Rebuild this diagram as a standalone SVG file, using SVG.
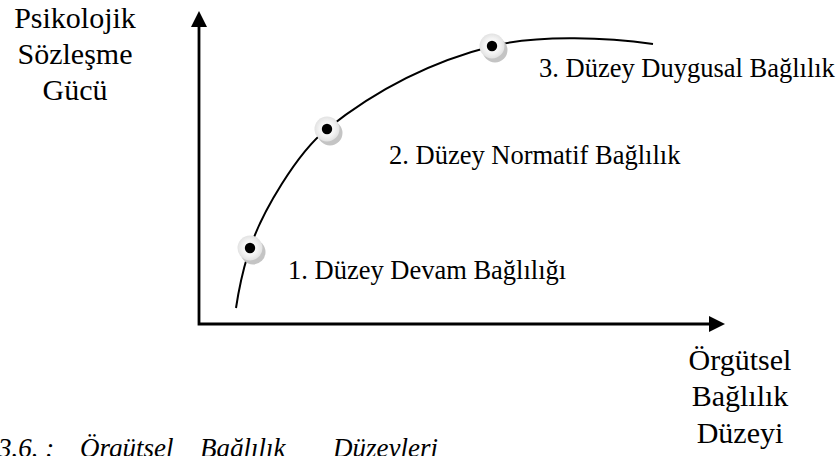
<svg xmlns="http://www.w3.org/2000/svg" width="838" height="456" viewBox="0 0 838 456" font-family="'Liberation Serif', Tinos, 'Times New Roman', 'DejaVu Serif', serif">
<style>
text{font-family:'Liberation Serif', Tinos, 'Times New Roman', 'DejaVu Serif', serif;fill:#000}
.ax{font-size:30px}
.lb{font-size:26.5px}
.cap{font-size:27px;font-style:italic}
.axis{stroke:#000;stroke-width:2.8;fill:none}
.curve{stroke:#000;stroke-width:2;fill:none}
</style>
<defs>
<radialGradient id="g" cx="0.5" cy="0.5" r="0.5">
<stop offset="0" stop-color="#ffffff"/>
<stop offset="0.6" stop-color="#f4f4f4"/>
<stop offset="1" stop-color="#e2e2e2"/>
</radialGradient>
<g id="dot">
<circle cx="3" cy="4" r="12.5" fill="#c4c4c4"/>
<circle cx="0" cy="0" r="12.5" fill="url(#g)"/>
<circle cx="0" cy="0" r="5.2" fill="#000"/>
</g>
</defs>
<rect width="838" height="456" fill="#fff"/>
<g id="connectors">
<path class="axis" d="M199,26 V324 H710"/>
<polygon points="199,11 191,27 207,27" fill="#000"/>
<polygon points="725,324 709,316 709,332" fill="#000"/>
<path class="curve" d="M236,308 C239,288 245,263 250,248 C262,212 297,153 327,129 C377,89 433,61 493,46 C540,34 610,38 653,44"/>
</g>
<g id="y-label">
<text class="ax" x="75" y="28" text-anchor="middle">Psikolojik</text>
<text class="ax" x="75" y="64" text-anchor="middle">Sözleşme</text>
<text class="ax" x="75" y="100" text-anchor="middle">Gücü</text>
</g>
<g id="x-label">
<text class="ax" x="740" y="370" text-anchor="middle">Örgütsel</text>
<text class="ax" x="740" y="406" text-anchor="middle">Bağlılık</text>
<text class="ax" x="740" y="443" text-anchor="middle">Düzeyi</text>
</g>
<g id="level1">
<use href="#dot" x="250" y="248"/>
<text class="lb" x="288" y="279">1. Düzey Devam Bağlılığı</text>
</g>
<g id="level2">
<use href="#dot" x="327" y="129"/>
<text class="lb" x="389" y="164">2. Düzey Normatif Bağlılık</text>
</g>
<g id="level3">
<use href="#dot" x="492" y="46"/>
<text class="lb" x="539" y="77">3. Düzey Duygusal Bağlılık</text>
</g>
<g id="caption">
<text class="cap" y="457"><tspan x="-2">3.6. :</tspan><tspan x="80">Örgütsel</tspan><tspan x="200">Bağlılık</tspan><tspan x="333">Düzeyleri</tspan></text>
</g>
</svg>
